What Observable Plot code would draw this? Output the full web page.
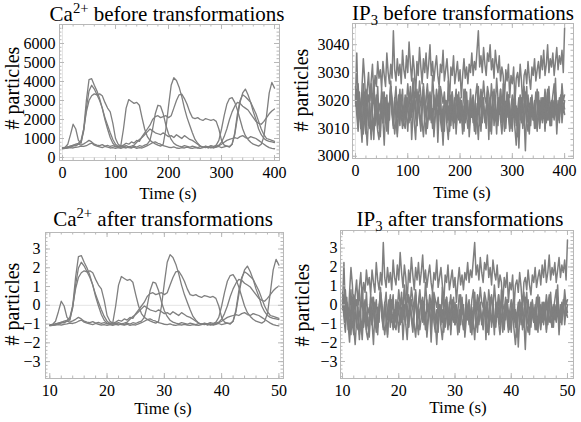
<!DOCTYPE html>
<html><head><meta charset="utf-8">
<script src="https://cdn.jsdelivr.net/npm/d3@7"></script>
<script src="https://cdn.jsdelivr.net/npm/@observablehq/plot@0.6"></script>
<style>
body{margin:0;background:#fff;width:581px;height:422px;position:relative;overflow:hidden;font-family:"Liberation Serif","Times New Roman",serif;color:#000;}
.panel{position:absolute;}
.title{position:absolute;font-size:21px;white-space:nowrap;transform:translate(-50%,-50%);line-height:1;}
.xlab{position:absolute;font-size:17px;white-space:nowrap;transform:translate(-50%,-50%);line-height:1;}
.ylab{position:absolute;font-size:20px;white-space:nowrap;transform:translate(-50%,-50%) rotate(-90deg);line-height:1;}
sup,sub{font-size:70%;line-height:0;}
</style></head><body>
<script>
// ---------------- data ----------------
// Ca2+ particle counts, one sample every 5 s from 0 to 400 s
const caStep = 5;
const caA = [500,540,700,1200,1750,1500,900,750,1500,3000,
 4100,4150,3800,3500,3100,2600,2000,1500,1050,750,
 600,520,480,530,500,560,520,600,550,620,
 580,650,700,900,1500,2300,2750,2700,2300,1700,
 1250,950,750,650,600,560,620,580,540,600,
 560,520,580,540,600,560,620,580,650,900,
 1500,2200,2800,3100,3150,2900,2500,2000,1500,1150,
 950,800,700,650,600,700,1100,2200,3400,3950,
 3650];
const caB = [480,520,560,600,650,620,700,800,1400,2600,
 3500,3800,3600,3300,3000,2600,2100,1700,1300,950,
 700,580,620,1500,2600,3050,2950,2850,2900,2750,
 2100,1500,1100,900,800,720,650,600,700,1500,
 2700,3800,4200,4050,3700,3200,2600,2100,1700,1300,
 950,750,600,550,580,520,560,500,540,580,
 520,560,600,580,700,1200,2100,2900,3400,3600,
 3300,2900,2400,2000,1500,1200,1000,900,850,820,
 780];
const caC = [520,500,560,600,640,700,750,900,1500,2400,
 3000,3250,3350,3300,3350,3250,2900,2600,2400,1800,
 1000,700,600,650,750,700,820,760,900,850,
 1100,1300,1500,1700,2000,2150,2200,2100,2150,2200,
 2100,2200,2600,3000,3300,3340,3100,2800,2400,2100,
 2050,2100,2000,1950,2050,2000,1950,2000,1900,1500,
 900,650,600,550,700,1300,2300,3000,3300,3200,
 3050,2900,2600,2300,1900,1500,1200,1000,950,900,
 850];
const caD = [500,480,520,560,600,640,700,650,720,800,
 900,820,700,650,620,680,600,640,580,620,
 560,600,540,580,620,560,600,650,800,950,
 1050,1200,1350,1500,1400,1300,1250,1200,1300,1200,
 1100,1150,1050,1200,1100,1000,1150,1050,950,900,
 800,700,600,550,520,560,500,540,600,650,
 800,1100,1500,2000,2400,2700,2900,2850,2700,2600,
 2500,2300,2100,1900,1800,1750,1900,2100,2300,2450,
 2550];
const caE = [460,480,500,520,500,540,560,600,580,620,
 700,760,650,600,560,520,580,540,500,520,
 480,520,560,600,550,520,500,540,480,520,
 500,560,620,700,780,820,750,700,620,580,
 540,520,560,500,480,520,500,540,500,480,
 520,500,480,520,560,500,540,520,560,620,
 700,800,900,950,1000,1050,1000,1100,1150,1050,
 1000,1100,1050,1000,900,800,700,600,520,480,
 460];

// IP3 particle counts, one sample every 2.5 s from 0 to 400 s
const ip3Step = 2.5;
const ip3U = [3020,3037,3017,3023,3013,3025,3035,3028,3016,3024,3030,3020,3027,3033,3022,3029,3025,3034,3028,3031,
 3024,3034,3029,3025,3037,3030,3026,3033,3028,3045,3031,3027,3035,3029,3033,3026,3038,3031,3028,3036,
 3030,3041,3033,3027,3036,3031,3021,3034,3029,3039,3032,3026,3035,3030,3037,3028,3033,3040,3029,3034,
 3027,3032,3036,3029,3025,3033,3030,3038,3027,3031,3035,3028,3020,3032,3029,3036,3026,3030,3034,3027,
 3031,3021,3029,3035,3028,3032,3026,3033,3030,3037,3029,3034,3031,3038,3045,3032,3036,3030,3039,3033,
 3029,3037,3034,3040,3031,3035,3028,3038,3033,3030,3036,3027,3032,3029,3020,3031,3027,3033,3021,3029,
 3026,3032,3019,3028,3030,3025,3033,3027,3018,3029,3031,3026,3034,3028,3024,3032,3029,3035,3027,3031,
 3034,3028,3036,3031,3038,3029,3033,3040,3030,3035,3032,3037,3029,3034,3039,3031,3036,3033,3038,3030,
 3046];
const ip3L1 = [3019,3024,3013,3021,3010,3017,3026,3012,3008,3019,3022,3015,3006,3018,3023,3011,3016,3025,3014,3009,
 3020,3013,3004,3017,3022,3012,3018,3027,3015,3010,3021,3016,3007,3019,3024,3013,3017,3011,3022,3015,
 3009,3018,3025,3014,3020,3012,3006,3017,3023,3016,3011,3019,3026,3013,3008,3018,3021,3014,3017,3010,
 3022,3015,3019,3005,3016,3024,3012,3018,3009,3020,3014,3027,3016,3011,3019,3013,3021,3008,3017,3023,
 3012,3018,3015,3010,3024,3016,3020,3007,3014,3019,3022,3011,3017,3013,3025,3015,3009,3018,3021,3012,
 3016,3020,3006,3019,3014,3023,3011,3017,3008,3021,3015,3019,3012,3026,3014,3010,3018,3022,3013,3016,
 3009,3020,3024,3012,3017,3003,3015,3021,3018,3011,3019,3025,3014,3008,3017,3022,3013,3019,3010,3016,
 3023,3012,3018,3015,3021,3009,3017,3024,3013,3019,3011,3020,3016,3028,3014,3018,3012,3021,3015,3019,
 3017];
const ip3L2 = [3022,3015,3009,3018,3012,3005,3016,3020,3011,3004,3014,3019,3008,3013,3006,3017,3021,3010,3015,3007,
 3018,3012,3023,3014,3009,3019,3013,3025,3016,3011,3020,3014,3008,3017,3022,3015,3010,3018,3013,3021,
 3016,3012,3019,3006,3015,3023,3017,3011,3020,3014,3009,3016,3024,3013,3018,3010,3015,3021,3012,3017,
 3007,3014,3019,3011,3022,3016,3013,3004,3015,3020,3012,3018,3009,3016,3023,3014,3019,3010,3017,3013,
 3021,3015,3008,3018,3012,3020,3016,3011,3024,3014,3017,3009,3019,3013,3006,3016,3022,3012,3018,3015,
 3010,3019,3014,3021,3008,3017,3013,3020,3015,3011,3018,3024,3012,3016,3009,3019,3014,3022,3017,3010,
 3015,3020,3013,3018,3007,3016,3021,3012,3019,3014,3002,3017,3022,3015,3011,3018,3013,3020,3016,3009,
 3019,3014,3021,3012,3017,3010,3018,3023,3015,3011,3019,3016,3013,3020,3008,3017,3014,3022,3012,3018,
 3015];
const ip3L3 = [3025,3018,3012,3021,3016,3009,3019,3023,3014,3017,3011,3020,3026,3015,3010,3018,3022,3013,3019,3016,
 3024,3012,3017,3021,3015,3008,3019,3023,3016,3013,3020,3025,3014,3018,3011,3022,3017,3015,3021,3019,
 3026,3020,3023,3017,3028,3021,3016,3024,3019,3027,3022,3018,3025,3014,3021,3026,3019,3023,3017,3029,
 3021,3018,3024,3020,3015,3025,3022,3019,3023,3016,3020,3013,3018,3022,3015,3010,3019,3024,3014,3017,
 3012,3020,3016,3009,3018,3023,3015,3011,3019,3014,3021,3017,3008,3016,3022,3018,3024,3020,3027,3021,
 3019,3025,3022,3017,3026,3020,3023,3018,3028,3021,3016,3024,3019,3022,3017,3013,3020,3015,3009,3018,
 3022,3014,3019,3011,3016,3021,3013,3018,3010,3017,3023,3015,3012,3019,3014,3021,3017,3010,3018,3024,
 3015,3020,3013,3019,3016,3022,3012,3018,3025,3016,3020,3014,3019,3023,3017,3013,3021,3018,3026,3020,
 3022];
const ip3L4 = [3018,3021,3026,3017,3012,3014,3008,3019,3024,3022,3013,3010,3016,3021,3027,3018,3015,3009,3006,3014,
 3020,3023,3017,3012,3016,3011,3019,3025,3021,3014,3008,3013,3018,3022,3016,3019,3024,3012,3010,3015,
 3021,3017,3013,3020,3026,3019,3014,3011,3017,3022,3018,3012,3007,3015,3020,3024,3016,3013,3019,3014,
 3010,3016,3021,3018,3025,3013,3009,3015,3020,3017,3011,3006,3014,3019,3023,3017,3012,3018,3022,3015,
 3019,3013,3017,3024,3020,3014,3010,3016,3021,3018,3012,3015,3022,3026,3017,3011,3014,3020,3016,3013,
 3018,3023,3015,3009,3014,3019,3024,3017,3012,3016,3021,3013,3008,3015,3020,3018,3023,3016,3011,3014,
 3019,3015,3010,3004,3013,3018,3022,3016,3020,3025,3017,3012,3009,3015,3021,3018,3013,3017,3023,3019,
 3014,3010,3016,3021,3017,3024,3019,3013,3016,3011,3018,3022,3026,3017,3014,3020,3015,3019,3023,3016,
 3020];

const timeOffset = 10, timeScale = 10;
const caMean = 1536, caSd = 987;
const ip3Mean = 3020, ip3Sd = 7.6;

// tick labels
const caBeforeXTicks = [0,100,200,300,400];
const caBeforeYTicks = [0,1000,2000,3000,4000,5000,6000];
const ip3BeforeXTicks = [0,100,200,300,400];
const ip3BeforeYTicks = [3000,3010,3020,3030,3040];
const afterXTicks = [10,20,30,40,50];
const afterYTicks = [-3,-2,-1,0,1,2,3];

const titles = ["Ca<sup>2+</sup> before transformations","IP<sub>3</sub> before transformations",
                "Ca<sup>2+</sup> after transformations","IP<sub>3</sub> after transformations"];
const xLabel = "Time (s)", yLabel = "# particles";

// ---------------- build ----------------
function rows(seriesList, step, tf, vf){
  const out = [];
  seriesList.forEach((arr, s) => arr.forEach((v, i) => out.push({s, t: tf(i*step), v: vf(v)})));
  return out;
}
const id = d => d;
const caSeries = [caA, caB, caC, caD, caE];
const ip3Series = [ip3U, ip3L1, ip3L2, ip3L3, ip3L4];
const caBefore = rows(caSeries, caStep, id, id);
const caAfter = rows(caSeries, caStep, t => timeOffset + t/timeScale, v => (v - caMean)/caSd);
const ip3Before = rows(ip3Series, ip3Step, id, id);
const ip3After = rows(ip3Series, ip3Step, t => timeOffset + t/timeScale, v => (v - ip3Mean)/ip3Sd);

const fmt = d => d < 0 ? "\u2212" + Math.abs(d) : String(d);
function minor(domain, step){
  const a = Math.ceil(domain[0]/step - 1e-9), b = Math.floor(domain[1]/step + 1e-9);
  return d3.range(a, b + 1).map(k => +(k*step).toFixed(6));
}

const FRAME = "#b8b8b8", LINE = "#7f7f7f", AXIS = "#e4e4e4";

function panel(c){
  const ih = c.height - c.mt - c.mb, iw = c.width - c.ml - c.mr;
  const xm = minor(c.xDomain, c.xMinor), ym = minor(c.yDomain, c.yMinor);
  const xM = c.xTicks, yM = c.yTicks;
  const marks = [];
  (c.zeroY||[]).forEach(z => marks.push(Plot.ruleY([z], {y: d=>d, stroke: AXIS})));
  (c.zeroX||[]).forEach(z => marks.push(Plot.ruleX([z], {x: d=>d, stroke: AXIS})));
  marks.push(Plot.line(c.data, {x: "t", y: "v", z: "s", stroke: LINE, strokeWidth: c.sw}));
  marks.push(Plot.frame({stroke: FRAME}));
  // inward ticks on all four sides
  marks.push(Plot.tickX(xm, {x: d=>d, insetTop: ih-2.5, stroke: FRAME}));
  marks.push(Plot.tickX(xm, {x: d=>d, insetBottom: ih-2.5, stroke: FRAME}));
  marks.push(Plot.tickX(xM, {x: d=>d, insetTop: ih-5, stroke: FRAME}));
  marks.push(Plot.tickX(xM, {x: d=>d, insetBottom: ih-5, stroke: FRAME}));
  marks.push(Plot.tickY(ym, {y: d=>d, insetRight: iw-2.5, stroke: FRAME}));
  marks.push(Plot.tickY(ym, {y: d=>d, insetLeft: iw-2.5, stroke: FRAME}));
  marks.push(Plot.tickY(yM, {y: d=>d, insetRight: iw-5, stroke: FRAME}));
  marks.push(Plot.tickY(yM, {y: d=>d, insetLeft: iw-5, stroke: FRAME}));
  const svg = Plot.plot({
    width: c.width, height: c.height,
    marginTop: c.mt, marginBottom: c.mb, marginLeft: c.ml, marginRight: c.mr,
    style: {fontFamily: "'Liberation Serif', serif", fontSize: "16px", color: "#000", background: "transparent", overflow: "visible"},
    x: {domain: c.xDomain, ticks: c.xTicks, tickSize: 0, tickPadding: 6, tickFormat: fmt, label: null},
    y: {domain: c.yDomain, ticks: c.yTicks, tickSize: 0, tickPadding: c.yPad, tickFormat: fmt, label: null},
    marks
  });
  const wrap = document.createElement("div");
  wrap.className = "panel";
  wrap.style.left = c.left + "px"; wrap.style.top = c.top + "px";
  wrap.appendChild(svg);
  document.body.appendChild(wrap);
}
function text(cls, html, x, y){
  const d = document.createElement("div");
  d.className = cls; d.innerHTML = html;
  d.style.left = x + "px"; d.style.top = y + "px";
  document.body.appendChild(d);
}

panel({left: 0, top: 0, width: 290, height: 205, mt: 24, mb: 45, ml: 59, mr: 11,
  xDomain: [-5.7, 409.4], yDomain: [-158, 7000], xTicks: caBeforeXTicks, yTicks: caBeforeYTicks,
  xMinor: 20, yMinor: 200, data: caBefore, zeroX: [0], zeroY: [0], yPad: 4, sw: 1.3});
panel({left: 290, top: 0, width: 291, height: 205, mt: 23, mb: 47, ml: 62, mr: 8,
  xDomain: [-5.7, 417], yDomain: [2999.2, 3047.6], xTicks: ip3BeforeXTicks, yTicks: ip3BeforeYTicks,
  xMinor: 20, yMinor: 2, data: ip3Before, zeroX: [0], yPad: 3, sw: 1.5});
panel({left: 0, top: 205, width: 290, height: 217, mt: 27, mb: 44, ml: 45, mr: 7,
  xDomain: [9.25, 50.8], yDomain: [-3.9, 3.88], xTicks: afterXTicks, yTicks: afterYTicks,
  xMinor: 2, yMinor: 0.2, data: caAfter, zeroY: [0], yPad: 5, sw: 1.3});
panel({left: 290, top: 205, width: 291, height: 217, mt: 25, mb: 44, ml: 50, mr: 8,
  xDomain: [9.64, 51.07], yDomain: [-3.9, 3.93], xTicks: afterXTicks, yTicks: afterYTicks,
  xMinor: 2, yMinor: 0.2, data: ip3After, zeroY: [0], yPad: 3, sw: 1.5});

text("title", titles[0], 167, 14);
text("title", titles[1], 463, 13);
text("title", titles[2], 163, 219);
text("title", titles[3], 460, 219);
text("xlab", xLabel, 168, 193);
text("xlab", xLabel, 462, 192);
text("xlab", xLabel, 163, 408);
text("xlab", xLabel, 458, 407);
text("ylab", yLabel, 12, 88);
text("ylab", yLabel, 301, 90);
text("ylab", yLabel, 12, 304);
text("ylab", yLabel, 302, 305);
</script>
</body></html>
